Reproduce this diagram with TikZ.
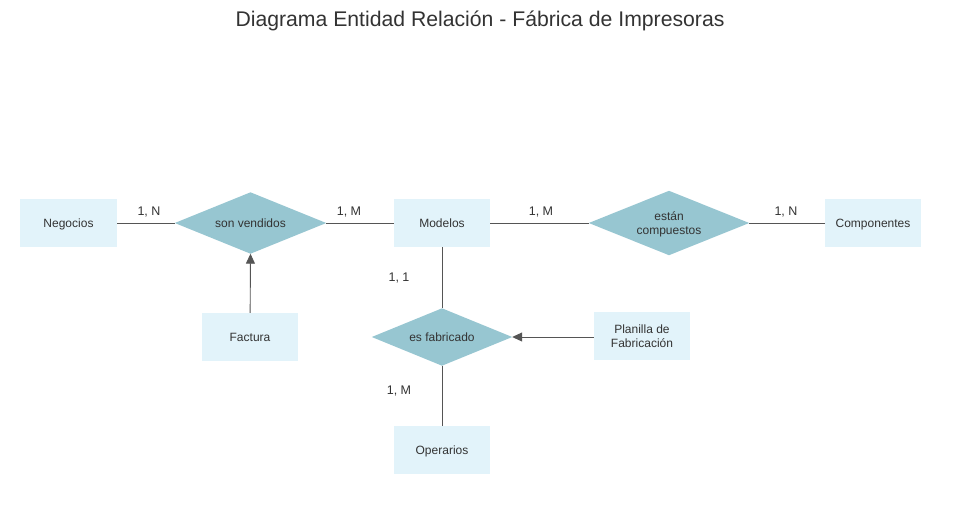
\documentclass[tikz,border=0pt]{standalone}
\usepackage{fontspec}
\setmainfont{Liberation Sans}
\usetikzlibrary{shapes.geometric,arrows.meta}
\definecolor{entfill}{HTML}{E2F3FA}
\definecolor{relfill}{HTML}{97C6D1}
\definecolor{linec}{HTML}{555555}
\definecolor{txtc}{HTML}{333333}
\begin{document}
\begin{tikzpicture}[x=1pt,y=-1pt,
  entity/.style={rectangle,fill=entfill,minimum width=96pt,minimum height=48pt,inner sep=0pt,align=center,text=txtc,text depth=0pt,font=\fontsize{12}{14}\selectfont},
  rel/.style={rectangle,inner sep=0pt,align=center,text=txtc,font=\fontsize{12}{14}\selectfont},
  reltext/.style={rel,text depth=0pt},
  relshape/.style={fill=relfill},
  card/.style={text=txtc,font=\fontsize{12.5}{14}\selectfont,inner sep=0pt},
  conn/.style={draw=linec,line width=0.9pt},
  arr/.style={conn,-{Triangle[length=10pt,width=9pt]}}]
\useasboundingbox[fill=white] (0,0) rectangle (958,531);
\node[text=txtc,font=\fontsize{21.2}{24}\selectfont,inner sep=0pt] (title) at (480,21) {Diagrama Entidad Relación - Fábrica de Impresoras};

\node[entity,minimum width=97pt] (neg) at (68.5,223) {Negocios};
\node[entity] (mod) at (442,223) {Modelos};
\node[entity] (comp) at (873,223) {Componentes};
\node[entity] (fact) at (250,337) {Factura};
\node[entity] (plan) at (642,336) {Planilla de\\Fabricación};
\node[entity] (oper) at (442,450) {Operarios};

\node[rel,minimum width=151pt,minimum height=61pt] (sv) at (250.5,223) {};
\node[rel,minimum width=160pt,minimum height=64pt] (ec) at (669,223) {};
\node[rel,minimum width=140pt,minimum height=57pt] (ef) at (442,337) {};
\foreach \n in {sv,ec,ef}
  \path[relshape] (\n.west) -- (\n.north) -- (\n.east) -- (\n.south) -- cycle;
\node[reltext] (svt) at (sv.center) {son vendidos};
\node[reltext] (ect) at (ec.center) {están\\compuestos};
\node[reltext] (eft) at (ef.center) {es fabricado};

\draw[conn] (neg) -- (sv);
\draw[conn] (sv) -- (mod);
\draw[conn] (mod) -- (ec);
\draw[conn] (ec) -- (comp);
\draw[conn] (mod) -- (ef);
\draw[conn] (ef) -- (oper);
\draw[arr] (fact) -- (sv.south);
\draw[arr] (plan.west |- ef.east) -- (ef.east);

\node[card] (c1) at (149,212) {1, N};
\node[card] (c2) at (349,212) {1, M};
\node[card] (c3) at (541,212) {1, M};
\node[card] (c4) at (786,212) {1, N};
\node[card] (c5) at (399,278) {1, 1};
\node[card] (c6) at (399,391) {1, M};
\end{tikzpicture}
\end{document}
